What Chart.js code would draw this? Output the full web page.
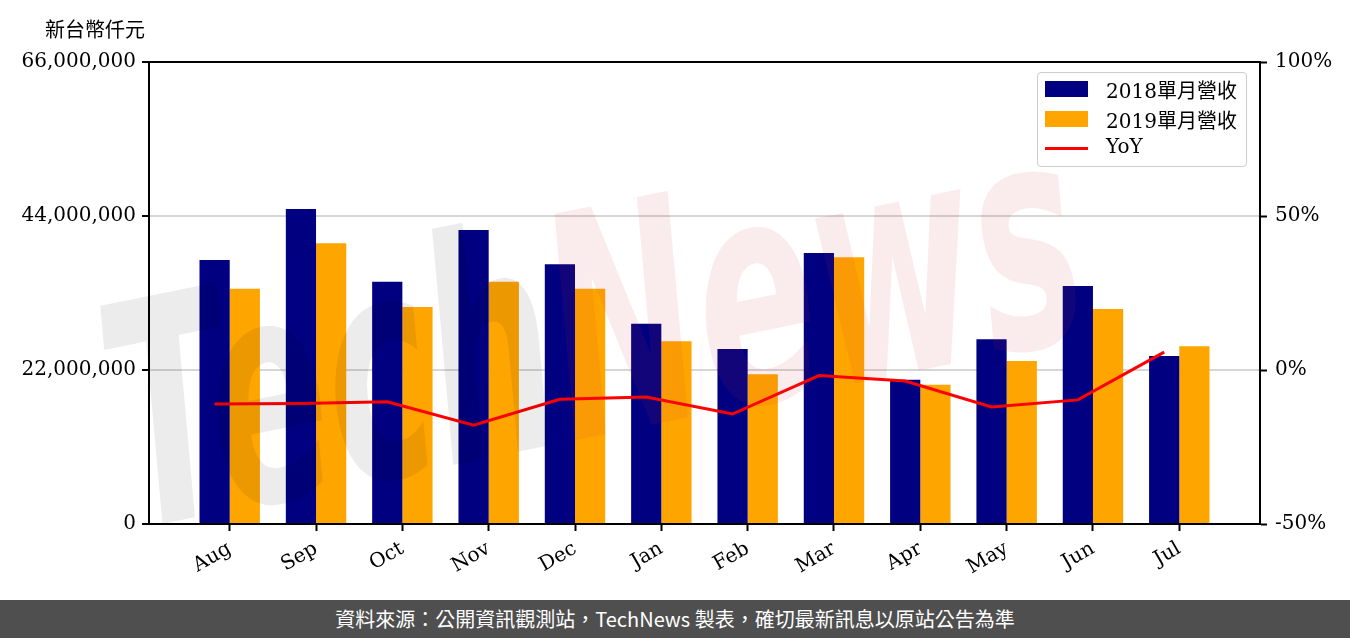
<!DOCTYPE html>
<html>
<head>
<meta charset="utf-8">
<script src="https://cdn.jsdelivr.net/npm/chart.js@4.4.1/dist/chart.umd.min.js"></script>
<style>
  html, body { margin: 0; padding: 0; background: #fff; }
  #wrap { position: relative; width: 1350px; height: 638px; overflow: hidden; }
  #c { position: absolute; left: 0; top: 0; }
  #unit { position: absolute; left: 45px; top: 14px; font: 20px "Noto Sans CJK TC", "DejaVu Serif"; color: #000; }
  #legend { position: absolute; left: 1037px; top: 72px; width: 208px; height: 93px;
    border: 1.5px solid #cccccc; border-radius: 4px; background: rgba(255,255,255,0.85); }
  .item { position: absolute; left: 7px; height: 20px; }
  .sw { position: absolute; left: 0; width: 43px; }
  .lb { position: absolute; left: 61px; top: -6px; white-space: nowrap;
    font: 20px "DejaVu Serif", "Noto Sans CJK TC"; color: #000; }
  #footer { position: absolute; left: 0; top: 600px; width: 1350px; height: 38px; background: #4f4f4f;
    color: #fff; font: 20px "Noto Sans CJK TC", "Noto Sans"; text-align: center; line-height: 38px; }
</style>
</head>
<body>
<div id="wrap">
  <canvas id="c" width="1350" height="600"></canvas>
  <div id="unit">新台幣仟元</div>
  <div id="legend"></div>
  <div id="footer">資料來源：公開資訊觀測站，TechNews 製表，確切最新訊息以原站公告為準</div>
</div>
<script>
const months = ['Aug','Sep','Oct','Nov','Dec','Jan','Feb','Mar','Apr','May','Jun','Jul'];
const rev2018 = [37700000, 45000000, 34600000, 42000000, 37100000, 28600000, 25000000, 38700000, 20600000, 26400000, 34000000, 24000000];
const rev2019 = [33600000, 40100000, 31000000, 34600000, 33600000, 26100000, 21400000, 38100000, 19900000, 23300000, 30700000, 25400000];
const yoy = [-11.0, -10.9, -10.3, -17.9, -9.5, -8.8, -14.3, -1.8, -3.6, -12.0, -9.7, 5.8];
const leftTicks = [0, 22000000, 44000000, 66000000];
const rightTicks = [-50, 0, 50, 100];
const label2018 = '2018單月營收';
const label2019 = '2019單月營收';
const labelYoY = 'YoY';

const NAVY = '#000080', ORANGE = '#FFA500', RED = '#FF0000';
const FONT = { family: '"DejaVu Serif", "Noto Sans CJK TC"', size: 20 };

const frame = {
  id: 'frame',
  afterDraw(chart) {
    const { ctx, chartArea: a } = chart;
    ctx.save();
    ctx.strokeStyle = '#000';
    ctx.lineWidth = 2;
    ctx.beginPath();
    ctx.moveTo(a.left - 1, a.top);
    ctx.lineTo(a.right + 1, a.top);
    ctx.stroke();
    ctx.restore();
  }
};

const watermark = {
  id: 'watermark',
  afterDatasetsDraw(chart) {
    const ctx = chart.ctx;
    ctx.save();
    ctx.translate(132, 530);
    ctx.rotate(-0.2);
    ctx.scale(0.57, 1);
    ctx.font = 'italic bold 310px "DejaVu Sans"';
    ctx.textBaseline = 'alphabetic';
    ctx.fillStyle = 'rgba(0,0,0,0.075)';
    ctx.fillText('Tech', 0, 0);
    const w = ctx.measureText('Tech').width;
    ctx.fillStyle = 'rgba(205,40,60,0.09)';
    ctx.fillText('News', w, 0);
    ctx.restore();
  }
};

const chart = new Chart(document.getElementById('c'), {
  data: {
    datasets: [
      { type: 'line', label: labelYoY, data: yoy.map((v, i) => ({ x: i - 0.175, y: v })),
        yAxisID: 'y1', borderColor: RED, backgroundColor: RED, borderWidth: 3,
        pointRadius: 0, tension: 0, order: 0 },
      { type: 'bar', label: label2018, data: rev2018.map((v, i) => ({ x: i, y: v })),
        yAxisID: 'y', backgroundColor: NAVY, categoryPercentage: 0.7, barPercentage: 1.0, order: 1 },
      { type: 'bar', label: label2019, data: rev2019.map((v, i) => ({ x: i, y: v })),
        yAxisID: 'y', backgroundColor: ORANGE, categoryPercentage: 0.7, barPercentage: 1.0, order: 2 }
    ]
  },
  options: {
    responsive: false,
    animation: false,
    events: [],
    layout: { padding: { left: 0, right: 0, top: 62, bottom: 0 } },
    plugins: { legend: { display: false }, tooltip: { enabled: false }, title: { display: false } },
    scales: {
      x: {
        type: 'linear', min: -0.935, max: 11.935, offset: false,
        afterBuildTicks: s => { s.ticks = months.map((_, i) => ({ value: i })); },
        afterFit: s => { s.height = 76; },
        ticks: { autoSkip: false, minRotation: 30, maxRotation: 30, padding: 6, color: '#000', font: FONT,
          callback: v => months[v] },
        grid: { offset: false, drawOnChartArea: false, tickLength: 7, tickColor: '#000', tickWidth: 2 },
        border: { display: true, color: '#000', width: 2 }
      },
      y: {
        type: 'linear', position: 'left', min: 0, max: 66000000,
        afterBuildTicks: s => { s.ticks = leftTicks.map(v => ({ value: v })); },
        afterFit: s => { s.width = 149; },
        ticks: { padding: 6, color: '#000', font: FONT, callback: v => Number(v).toLocaleString('en-US') },
        grid: { color: c => (c.tick && (c.tick.value === 0 || c.tick.value === 66000000)) ? 'rgba(0,0,0,0)' : '#d6d6d6',
          lineWidth: 2, tickLength: 7, tickColor: '#000', tickWidth: 2 },
        border: { display: true, color: '#000', width: 2 }
      },
      y1: {
        type: 'linear', position: 'right', min: -50, max: 100,
        afterBuildTicks: s => { s.ticks = rightTicks.map(v => ({ value: v })); },
        afterFit: s => { s.width = 90; },
        ticks: { padding: 8, color: '#000', font: FONT, callback: v => v + '%' },
        grid: { drawOnChartArea: false, tickLength: 7, tickColor: '#000', tickWidth: 2 },
        border: { display: true, color: '#000', width: 2 }
      }
    }
  },
  plugins: [watermark, frame]
});

// HTML legend built from the chart's datasets
const legend = document.getElementById('legend');
const order = [1, 2, 0];
order.forEach((di, row) => {
  const ds = chart.data.datasets[di];
  const item = document.createElement('div');
  item.className = 'item';
  item.style.top = (8 + row * 29.5) + 'px';
  const sw = document.createElement('div');
  sw.className = 'sw';
  if (ds.type === 'line') {
    sw.style.top = '7px'; sw.style.height = '3px'; sw.style.background = ds.borderColor;
  } else {
    sw.style.top = '0px'; sw.style.height = '16px'; sw.style.background = ds.backgroundColor;
  }
  const lb = document.createElement('div');
  lb.className = 'lb';
  lb.textContent = ds.label;
  item.appendChild(sw);
  item.appendChild(lb);
  legend.appendChild(item);
});
</script>
</body>
</html>
